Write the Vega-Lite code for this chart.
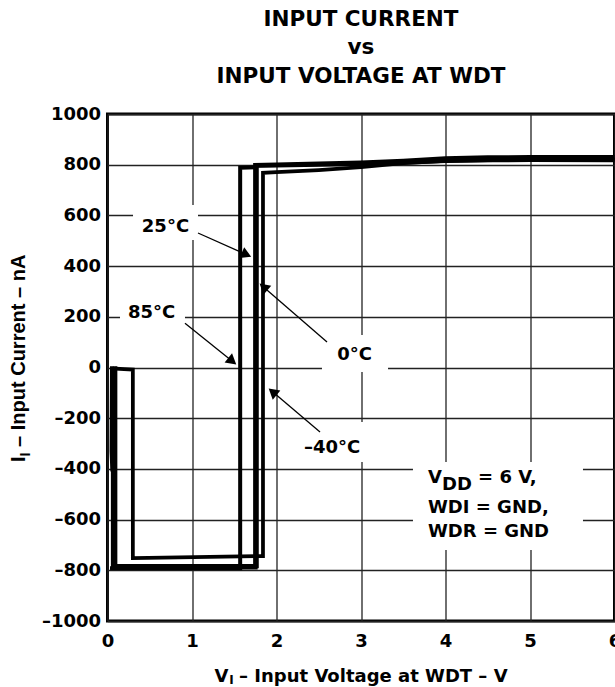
{
  "$schema": "https://vega.github.io/schema/vega-lite/v6.json",
  "width": 507,
  "height": 507,
  "autosize": {"type": "none"},
  "padding": {"left": 107.5, "top": 114, "right": 0, "bottom": 66},
  "background": "white",
  "title": {
    "text": ["INPUT CURRENT", "vs", "INPUT VOLTAGE AT WDT"],
    "font": "DejaVu Sans",
    "fontSize": 21.5,
    "fontWeight": "bold",
    "lineHeight": 28.5,
    "anchor": "middle",
    "offset": 18,
    "color": "black"
  },
  "config": {
    "view": {"stroke": "black", "strokeWidth": 3},
    "axis": {
      "grid": true,
      "gridColor": "#222222",
      "gridWidth": 1.3,
      "gridOpacity": 1,
      "domain": false,
      "ticks": false,
      "labelFont": "DejaVu Sans",
      "labelFontWeight": "bold",
      "labelFontSize": 18,
      "labelColor": "black",
      "labelFlush": false,
      "labelOverlap": false,
      "labelBound": false,
      "title": null
    }
  },
  "datasets": {
    "boxes": [
      {"x": 0.302, "x2": 1.071, "y": 641, "y2": 503},
      {"x": 0.148, "x2": 0.917, "y": 274, "y2": 164},
      {"x": 2.538, "x2": 3.32, "y": 128, "y2": -18},
      {"x": 2.278, "x2": 3.059, "y": -215, "y2": -373},
      {"x": 3.615, "x2": 5.627, "y": -373, "y2": -720}
    ],
    "curves": [
      {"s": "25C", "i": 0, "x": 0.09, "y": 5},
      {"s": "25C", "i": 1, "x": 0.09, "y": -788},
      {"s": "25C", "i": 2, "x": 1.75, "y": -788},
      {"s": "25C", "i": 3, "x": 1.75, "y": 798},
      {"s": "25C", "i": 4, "x": 2, "y": 800},
      {"s": "25C", "i": 5, "x": 2.5, "y": 804},
      {"s": "25C", "i": 6, "x": 3, "y": 808},
      {"s": "25C", "i": 7, "x": 3.5, "y": 815},
      {"s": "25C", "i": 8, "x": 4, "y": 824},
      {"s": "25C", "i": 9, "x": 4.5, "y": 828},
      {"s": "25C", "i": 10, "x": 5, "y": 829},
      {"s": "25C", "i": 11, "x": 6, "y": 829},
      {"s": "0C", "i": 0, "x": 0.065, "y": 2},
      {"s": "0C", "i": 1, "x": 0.065, "y": -784},
      {"s": "0C", "i": 2, "x": 1.765, "y": -784},
      {"s": "0C", "i": 3, "x": 1.765, "y": 796},
      {"s": "0C", "i": 4, "x": 2, "y": 797},
      {"s": "0C", "i": 5, "x": 2.5, "y": 800},
      {"s": "0C", "i": 6, "x": 3, "y": 803},
      {"s": "0C", "i": 7, "x": 3.5, "y": 808},
      {"s": "0C", "i": 8, "x": 4, "y": 815},
      {"s": "0C", "i": 9, "x": 4.5, "y": 818},
      {"s": "0C", "i": 10, "x": 5, "y": 819},
      {"s": "0C", "i": 11, "x": 6, "y": 818},
      {"s": "85C", "i": 0, "x": 0.03, "y": -792},
      {"s": "85C", "i": 1, "x": 1.57, "y": -792},
      {"s": "85C", "i": 2, "x": 1.57, "y": 788},
      {"s": "85C", "i": 3, "x": 1.76, "y": 790},
      {"s": "-40C", "i": 0, "x": 0.09, "y": -4},
      {"s": "-40C", "i": 1, "x": 0.3, "y": -8},
      {"s": "-40C", "i": 2, "x": 0.3, "y": -752},
      {"s": "-40C", "i": 3, "x": 1.84, "y": -744},
      {"s": "-40C", "i": 4, "x": 1.84, "y": 768},
      {"s": "-40C", "i": 5, "x": 2, "y": 771},
      {"s": "-40C", "i": 6, "x": 2.5, "y": 779},
      {"s": "-40C", "i": 7, "x": 3, "y": 790},
      {"s": "-40C", "i": 8, "x": 3.5, "y": 806},
      {"s": "-40C", "i": 9, "x": 4, "y": 815},
      {"s": "-40C", "i": 10, "x": 5, "y": 820},
      {"s": "-40C", "i": 11, "x": 6, "y": 821},
      {"s": "spike", "i": 0, "x": 0.05, "y": 5},
      {"s": "spike", "i": 1, "x": 0.045, "y": -330},
      {"s": "spike", "i": 2, "x": 0.055, "y": -410},
      {"s": "spike", "i": 3, "x": 0.06, "y": -300},
      {"s": "spike", "i": 4, "x": 0.05, "y": 0}
    ],
    "arrows": [
      {"label": "25", "x": 1.071, "y": 530.6, "x2": 1.645, "y2": 445},
      {"label": "85", "x": 0.917, "y": 175, "x2": 1.477, "y2": 24.9},
      {"label": "0", "x": 2.598, "y": 100.6, "x2": 1.846, "y2": 318},
      {"label": "-40", "x": 2.515, "y": -254, "x2": 1.954, "y2": -96}
    ],
    "labels": [
      {"t": "25°C", "x": 0.686, "y": 535.3},
      {"t": "85°C", "x": 0.521, "y": 194},
      {"t": "0°C", "x": 2.923, "y": 29.6},
      {"t": "–40°C", "x": 2.657, "y": -338.5}
    ],
    "texts": [
      {"t": "V", "x": 3.793, "y": -455.6},
      {"t": "DD", "x": 3.959, "y": -483.3},
      {"t": "= 6 V,", "x": 4.385, "y": -455.6},
      {"t": "WDI = GND,", "x": 3.793, "y": -572.8},
      {"t": "WDR = GND", "x": 3.793, "y": -669.9},
      {"t": "V", "x": 1.2675, "y": -1240.7},
      {"t": "– Input Voltage at WDT – V", "x": 1.557, "y": -1240.7}
    ],
    "xsub": [
      {"t": "I", "x": 1.44, "y": -1250}
    ],
    "ytitle": [
      {"t": "I", "x": -0.982, "y": -372.8},
      {"t": "– Input Current – nA", "x": -0.982, "y": -313.2}
    ],
    "ysub": [
      {"t": "I", "x": -0.923, "y": -350.7}
    ]
  },
  "encoding": {
    "x": {
      "field": "x",
      "type": "quantitative",
      "scale": {"domain": [0, 6], "nice": false, "zero": false},
      "axis": {"values": [0, 1, 2, 3, 4, 5, 6], "labelPadding": 11}
    },
    "y": {
      "field": "y",
      "type": "quantitative",
      "scale": {"domain": [-1000, 1000], "nice": false, "zero": false},
      "axis": {
        "values": [-1000, -800, -600, -400, -200, 0, 200, 400, 600, 800, 1000],
        "labelPadding": 7,
        "labelExpr": "datum.value < 0 ? '–' + format(-datum.value, 'd') : format(datum.value, 'd')"
      }
    }
  },
  "layer": [
    {
      "data": {"name": "boxes"},
      "mark": {"type": "rect", "fill": "white", "stroke": null},
      "encoding": {"x2": {"field": "x2"}, "y2": {"field": "y2"}}
    },
    {
      "data": {"name": "curves"},
      "mark": {"type": "line", "color": "black", "strokeJoin": "miter", "strokeCap": "butt"},
      "encoding": {
        "detail": {"field": "s"},
        "order": {"field": "i", "type": "quantitative"},
        "strokeWidth": {
          "field": "s",
          "type": "ordinal",
          "scale": {"domain": ["25C", "0C", "85C", "-40C", "spike"], "range": [4.5, 3.5, 3, 2.5, 3]},
          "legend": null
        }
      }
    },
    {
      "data": {"name": "arrows"},
      "mark": {"type": "rule", "color": "black", "strokeWidth": 1.3},
      "encoding": {"x2": {"field": "x2"}, "y2": {"field": "y2"}}
    },
    {
      "data": {"name": "arrows"},
      "transform": [{"filter": "datum.label == '25'"}],
      "mark": {"type": "point", "shape": "triangle-right", "filled": true, "color": "black", "size": 140, "angle": 24, "opacity": 1},
      "encoding": {"x": {"field": "x2", "type": "quantitative"}, "y": {"field": "y2", "type": "quantitative"}}
    },
    {
      "data": {"name": "arrows"},
      "transform": [{"filter": "datum.label == '85'"}],
      "mark": {"type": "point", "shape": "triangle-right", "filled": true, "color": "black", "size": 140, "angle": 39, "opacity": 1},
      "encoding": {"x": {"field": "x2", "type": "quantitative"}, "y": {"field": "y2", "type": "quantitative"}}
    },
    {
      "data": {"name": "arrows"},
      "transform": [{"filter": "datum.label == '0'"}],
      "mark": {"type": "point", "shape": "triangle-right", "filled": true, "color": "black", "size": 140, "angle": 221, "opacity": 1},
      "encoding": {"x": {"field": "x2", "type": "quantitative"}, "y": {"field": "y2", "type": "quantitative"}}
    },
    {
      "data": {"name": "arrows"},
      "transform": [{"filter": "datum.label == '-40'"}],
      "mark": {"type": "point", "shape": "triangle-right", "filled": true, "color": "black", "size": 140, "angle": 220, "opacity": 1},
      "encoding": {"x": {"field": "x2", "type": "quantitative"}, "y": {"field": "y2", "type": "quantitative"}}
    },
    {
      "data": {"name": "labels"},
      "mark": {"type": "text", "font": "DejaVu Sans", "fontWeight": "bold", "fontSize": 18, "align": "center", "baseline": "alphabetic", "color": "black"},
      "encoding": {"text": {"field": "t"}}
    },
    {
      "data": {"name": "texts"},
      "mark": {"type": "text", "font": "DejaVu Sans", "fontWeight": "bold", "fontSize": 18, "align": "left", "baseline": "alphabetic", "color": "black"},
      "encoding": {"text": {"field": "t"}}
    },
    {
      "data": {"name": "xsub"},
      "mark": {"type": "text", "font": "DejaVu Sans", "fontWeight": "bold", "fontSize": 12, "align": "left", "baseline": "alphabetic", "color": "black"},
      "encoding": {"text": {"field": "t"}}
    },
    {
      "data": {"name": "ytitle"},
      "mark": {"type": "text", "font": "Liberation Sans", "fontWeight": "bold", "fontSize": 20, "align": "left", "baseline": "alphabetic", "angle": 270, "color": "black"},
      "encoding": {"text": {"field": "t"}}
    },
    {
      "data": {"name": "ysub"},
      "mark": {"type": "text", "font": "Liberation Sans", "fontWeight": "bold", "fontSize": 14, "align": "left", "baseline": "alphabetic", "angle": 270, "color": "black"},
      "encoding": {"text": {"field": "t"}}
    }
  ]
}
